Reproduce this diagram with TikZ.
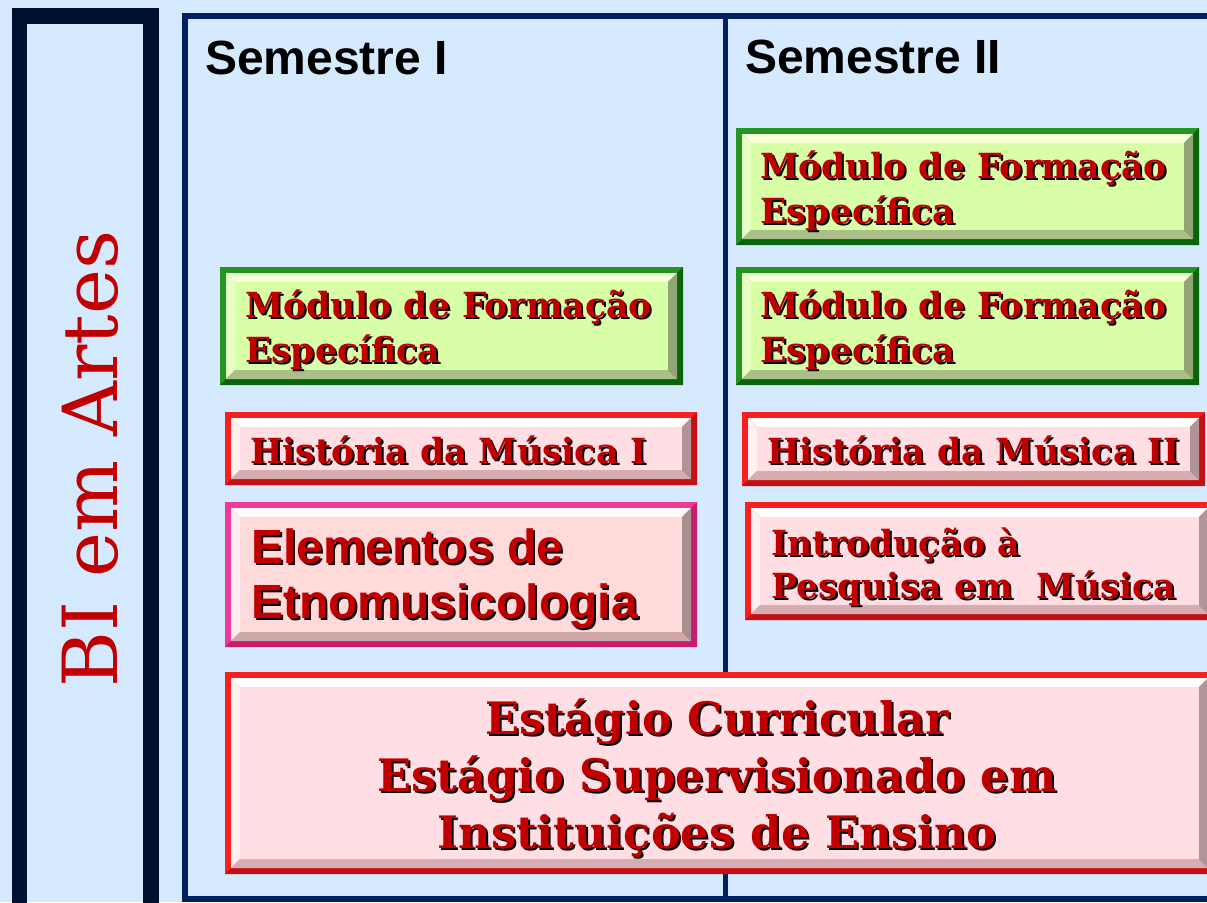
\documentclass[tikz,border=0pt]{standalone}
\usepackage{fontspec}
\setmainfont{DejaVu Serif}
\newfontfamily\sansfam{Liberation Sans}
\definecolor{bg}{RGB}{213,234,255}
\definecolor{leftfr}{RGB}{0,16,48}
\definecolor{mainfr}{RGB}{0,32,96}
\definecolor{txtred}{RGB}{192,0,0}
% green scheme
\definecolor{gbrd}{RGB}{34,150,34}
\definecolor{gbrdd}{RGB}{10,100,10}
\definecolor{gtop}{RGB}{246,255,214}
\definecolor{gleft}{RGB}{232,255,196}
\definecolor{gbot}{RGB}{170,192,136}
\definecolor{gright}{RGB}{146,164,118}
\definecolor{gface}{RGB}{216,255,168}
% red scheme
\definecolor{rbrd}{RGB}{250,30,30}
\definecolor{rbrdd}{RGB}{196,16,16}
\definecolor{rtop}{RGB}{255,255,255}
\definecolor{rleft}{RGB}{255,240,242}
\definecolor{rbot}{RGB}{214,174,178}
\definecolor{rright}{RGB}{176,148,154}
\definecolor{rface}{RGB}{255,222,228}
% pink scheme
\definecolor{pbrd}{RGB}{240,56,150}
\definecolor{pbrdd}{RGB}{196,30,110}
\definecolor{ptop}{RGB}{255,250,250}
\definecolor{pleft}{RGB}{255,236,236}
\definecolor{pbot}{RGB}{208,168,168}
\definecolor{pright}{RGB}{168,142,142}
\definecolor{pface}{RGB}{255,218,218}
\tikzset{
  boxfont/.style={font=\fontsize{34.6}{40}\selectfont\bfseries},
  bigfont/.style={font=\fontsize{44.7}{50}\selectfont\bfseries},
  elemfont/.style={font=\fontsize{48}{54}\selectfont\sansfam\bfseries},
  semfont/.style={font=\fontsize{48}{52}\selectfont\sansfam\bfseries},
  plain/.style={inner sep=0pt, outer sep=0pt},
}
% #1 name, #2 x1, #3 y1, #4 x2, #5 y2, #6 scheme
\newcommand{\bevelbox}[6]{%
  \fill[#6brd] (#2,#3) rectangle (#4,#5);
  \fill[#6brdd] (#2,#5) -- (#4,#5) -- (#4,#3) -- ({#4-6},{#3+6}) -- ({#4-6},{#5-6}) -- ({#2+6},{#5-6}) -- cycle;
  \fill[#6top] ({#2+6},{#3+6}) -- ({#4-6},{#3+6}) -- ({#4-15},{#3+15}) -- ({#2+15},{#3+15}) -- cycle;
  \fill[#6left] ({#2+6},{#3+6}) -- ({#2+15},{#3+15}) -- ({#2+15},{#5-15}) -- ({#2+6},{#5-6}) -- cycle;
  \fill[#6bot] ({#2+6},{#5-6}) -- ({#2+15},{#5-15}) -- ({#4-15},{#5-15}) -- ({#4-6},{#5-6}) -- cycle;
  \fill[#6right] ({#4-6},{#3+6}) -- ({#4-6},{#5-6}) -- ({#4-15},{#5-15}) -- ({#4-15},{#3+15}) -- cycle;
  \fill[#6face] ({#2+15},{#3+15}) rectangle ({#4-15},{#5-15});
  \node[plain, minimum width={#4-#2}, minimum height={#5-#3}] (#1) at ({(#2+#4)/2},{(#3+#5)/2}) {};
}
% shadowed text: #1 name, #2 x, #3 y, #4 style, #5 anchor, #6 text
\newcommand{\shtext}[6]{%
  \node[plain, anchor=#5, text=black, #4] (#1s) at ({#2+2},{#3+2}) {#6};
  \node[plain, anchor=#5, text=txtred, #4] (#1) at (#2,#3) {#6};
}
\begin{document}
\begin{tikzpicture}[x=1pt,y=-1pt]
\useasboundingbox (0,0) rectangle (1207,902);
\clip (0,0) rectangle (1207,902);
\fill[bg] (0,0) rectangle (1207,902);
% left frame
\draw[leftfr, line width=15.5pt] (19.5,16) rectangle (151,920);
\node[plain, rotate=90, anchor=base, text=txtred, font=\fontsize{76}{80}\selectfont] (bi) at (117,459) {BI em Artes};
% main frame
\draw[mainfr, line width=6pt] (185,16) rectangle (1230,899);
\draw[mainfr, line width=5pt] (725,16) -- (725,899);
\node[plain, anchor=base west, semfont] (s1) at (205,74) {Semestre I};
\node[plain, anchor=base west, semfont] (s2) at (745,73) {Semestre II};
% boxes semester I
\bevelbox{g1}{220}{267}{683}{385}{g}
\shtext{g1a}{245}{317}{boxfont}{base west}{Módulo de Formação}
\shtext{g1b}{245}{362}{boxfont}{base west}{Específica}
\bevelbox{h1}{225}{412}{697}{485}{r}
\shtext{h1a}{250}{463}{boxfont}{base west}{História da Música I}
\bevelbox{e1}{225}{502}{697}{647}{p}
\shtext{e1a}{251}{563}{elemfont}{base west}{Elementos de}
\shtext{e1b}{251}{618}{elemfont}{base west}{Etnomusicologia}
% boxes semester II
\bevelbox{g2}{736}{128}{1199}{245}{g}
\shtext{g2a}{760}{178}{boxfont}{base west}{Módulo de Formação}
\shtext{g2b}{760}{223}{boxfont}{base west}{Específica}
\bevelbox{g3}{736}{267}{1199}{385}{g}
\shtext{g3a}{760}{317}{boxfont}{base west}{Módulo de Formação}
\shtext{g3b}{760}{362}{boxfont}{base west}{Específica}
\bevelbox{h2}{742}{412}{1205}{486}{r}
\shtext{h2a}{767}{463}{boxfont}{base west}{História da Música II}
\bevelbox{i2}{745}{502}{1214}{620}{r}
\shtext{i2a}{771}{555}{boxfont}{base west}{Introdução à}
\shtext{i2b}{771}{598}{boxfont}{base west}{Pesquisa em~~Música}
% big box
\bevelbox{st}{225}{672}{1214}{874}{r}
\shtext{sta}{717}{734}{bigfont}{base}{Estágio Curricular}
\shtext{stb}{717}{791}{bigfont}{base}{Estágio Supervisionado em}
\shtext{stc}{717}{848}{bigfont}{base}{Instituições de Ensino}
\end{tikzpicture}
\end{document}
